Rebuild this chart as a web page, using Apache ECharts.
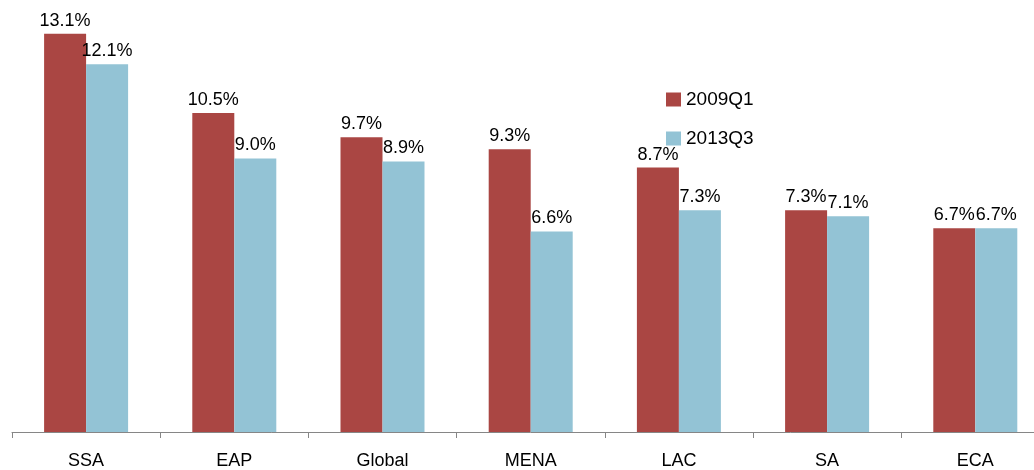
<!DOCTYPE html>
<html><head><meta charset="utf-8">
<script src="https://cdn.jsdelivr.net/npm/echarts@6/dist/echarts.min.js"></script>
<style>html,body{margin:0;padding:0;background:#fff;overflow:hidden}#c{width:1060px;height:470px}</style>
</head><body><div id="c"></div>
<script>
var categories = ['SSA','EAP','Global','MENA','LAC','SA','ECA'];
var s2009Q1 = [13.1, 10.5, 9.7, 9.3, 8.7, 7.3, 6.7];
var s2013Q3 = [12.1, 9.0, 8.9, 6.6, 7.3, 7.1, 6.7];
var seriesNames = ['2009Q1','2013Q3'];

var FONT = '"Liberation Sans", Arial, sans-serif';
var chart = echarts.init(document.getElementById('c'));
var lbl = {show:true, position:'top', distance:4, fontFamily:FONT, fontSize:18, color:'#000',
  formatter:function(p){return p.value.toFixed(1)+'%';}};
chart.setOption({
  animation:false,
  grid:{left:12, top:6.5, width:1037.4, height:428, containLabel:false},
  legend:{orient:'vertical', left:666, top:90, padding:0, itemWidth:15, itemHeight:14, itemGap:20,
    icon:'rect', textStyle:{fontFamily:FONT, fontSize:19, color:'#000'},
    data:seriesNames},
  xAxis:{type:'category', data:categories,
    axisLine:{lineStyle:{color:'#868686', width:1}},
    axisTick:{show:true, length:6, lineStyle:{color:'#868686'}},
    axisLabel:{fontFamily:FONT, fontSize:18, color:'#000', margin:20}},
  yAxis:{type:'value', min:0, max:14, show:false, splitLine:{show:false}},
  series:[
    {name:seriesNames[0], type:'bar', data:s2009Q1, barWidth:42, barGap:'0%',
     itemStyle:{color:'#AA4643'}, label:lbl},
    {name:seriesNames[1], type:'bar', data:s2013Q3, barWidth:42, barGap:'0%',
     itemStyle:{color:'#93C3D5'}, label:lbl}
  ]
});
</script></body></html>
